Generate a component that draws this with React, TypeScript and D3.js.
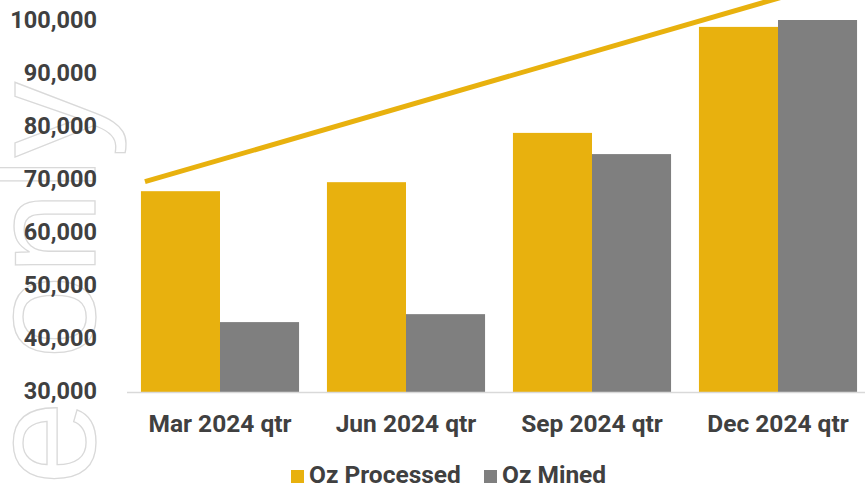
import React from 'react';
import * as d3 from 'd3';

const categories = ['Mar 2024 qtr', 'Jun 2024 qtr', 'Sep 2024 qtr', 'Dec 2024 qtr'];
const ozProcessed = [67700, 69400, 78700, 98700];
const ozMined = [43000, 44500, 74700, 100000];
const yTicks = [30000, 40000, 50000, 60000, 70000, 80000, 90000, 100000];
// straight trend line, value at the first and last category centre
const trendValues = [73600, 104100];

const seriesNames = ['Oz Processed', 'Oz Mined'];
const colors = ['#E8B10E', '#7F7F7F'];

const W = 865;
const H = 484;
const font = 'Roboto, "Noto Sans", sans-serif';
const textColor = '#404040';

const App: React.FC = () => {
  const x = d3.scaleBand<string>().domain(categories).range([127, 871]).paddingInner(0.15).paddingOuter(0.075);
  const x1 = d3.scaleBand<string>().domain(seriesNames).range([0, x.bandwidth()]);
  const y = d3.scaleLinear().domain([30000, 100000]).range([391, 20]);
  const fmt = d3.format(',');

  const step = x.step();
  const c0 = (x(categories[0]) as number) + x.bandwidth() / 2;
  const c3 = (x(categories[3]) as number) + x.bandwidth() / 2;
  const slope = (trendValues[1] - trendValues[0]) / (c3 - c0);
  const trendX = [(x(categories[0]) as number) + 4, c3 + step * 0.5];
  const trendPts: [number, number][] = trendX.map((px) => [px, y(trendValues[0] + slope * (px - c0))]);
  const line = d3.line();

  const series = [ozProcessed, ozMined];

  return (
    <svg width={W} height={H} style={{ position: 'absolute', left: 0, top: 0, background: '#fff' }}>
      <text
        transform="translate(95, 82) rotate(-90)"
        textAnchor="end"
        fontFamily='"Liberation Sans", Arial, sans-serif'
        fontSize={151}
        fill="none"
        stroke="#d9d9d9"
        strokeWidth={1.3}
      >
        For personal use only
      </text>

      {yTicks.map((t) => (
        <text
          key={t}
          x={97}
          y={y(t)}
          dy="0.35em"
          textAnchor="end"
          fontFamily={font}
          fontWeight={700}
          fontSize={23.5}
          fill={textColor}
        >
          {fmt(t)}
        </text>
      ))}

      {categories.map((c, i) => (
        <g key={c} transform={`translate(${x(c)},0)`}>
          {series.map((s, j) => (
            <rect
              key={j}
              x={x1(seriesNames[j])}
              y={y(s[i])}
              width={x1.bandwidth()}
              height={y(30000) - y(s[i]) + 1}
              fill={colors[j]}
            />
          ))}
        </g>
      ))}

      <line x1={127} x2={W} y1={392.5} y2={392.5} stroke="#d9d9d9" strokeWidth={1.5} />

      {categories.map((c) => (
        <text
          key={c}
          x={(x(c) as number) + x.bandwidth() / 2}
          y={432}
          textAnchor="middle"
          fontFamily={font}
          fontWeight={700}
          fontSize={24.5}
          fill={textColor}
        >
          {c}
        </text>
      ))}

      <path d={line(trendPts) || ''} stroke={colors[0]} strokeWidth={5} fill="none" />

      {seriesNames.map((n, i) => {
        const lx = [291, 484][i];
        return (
          <g key={n}>
            <rect x={lx} y={470} width={13} height={13} fill={colors[i]} />
            <text x={lx + 18} y={483} fontFamily={font} fontWeight={700} fontSize={24.5} fill={textColor}>
              {n}
            </text>
          </g>
        );
      })}
    </svg>
  );
};

export default App;
